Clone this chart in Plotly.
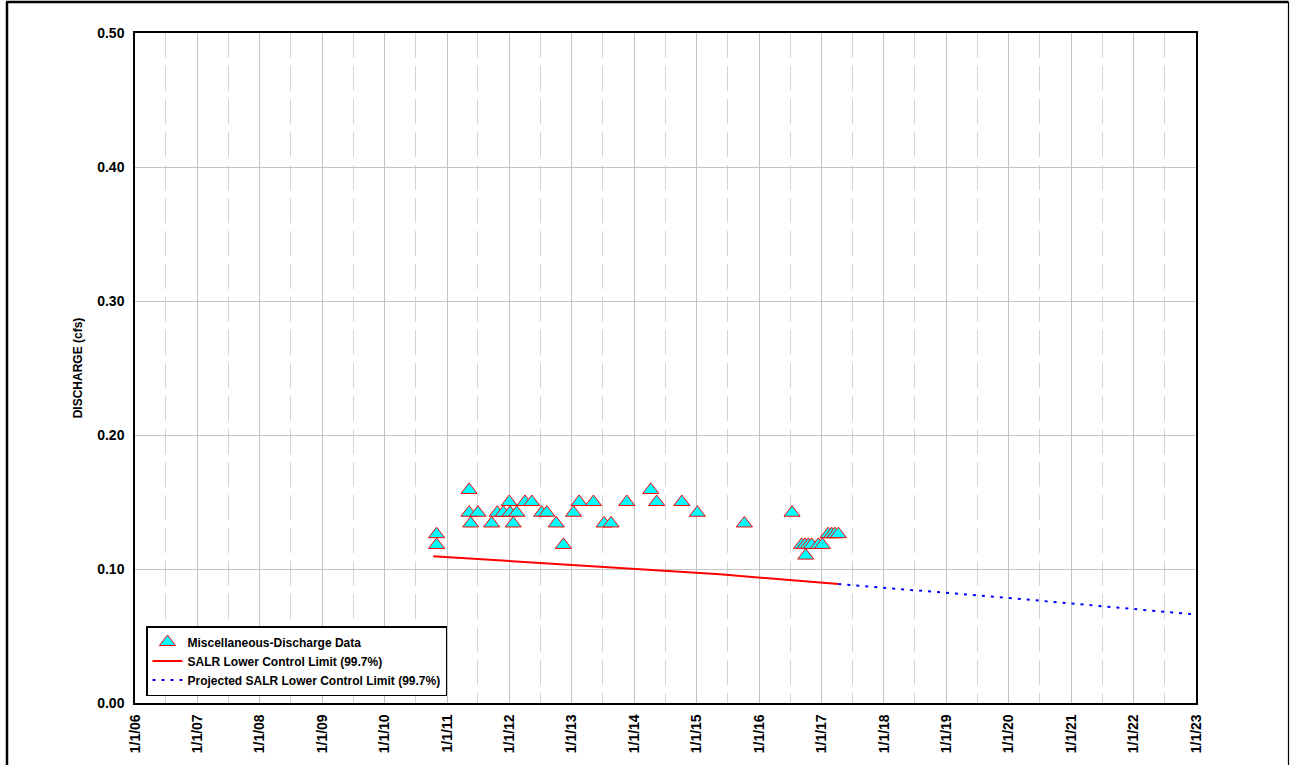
import plotly.graph_objects as go

# Miscellaneous discharge measurements
meas_dates = [
    "2010-11-01", "2010-11-01", "2011-05-10", "2011-05-10", "2011-05-20",
    "2011-07-01", "2011-09-19", "2011-10-22", "2011-11-26", "2011-12-31",
    "2012-01-05", "2012-01-23", "2012-02-13", "2012-04-01", "2012-05-11",
    "2012-07-08", "2012-08-07", "2012-10-01", "2012-11-12", "2013-01-10",
    "2013-02-12", "2013-05-07", "2013-07-08", "2013-08-18", "2013-11-18",
    "2014-04-07", "2014-05-12", "2014-10-06", "2015-01-05", "2015-10-07",
    "2016-07-12", "2016-09-06", "2016-09-26", "2016-09-30", "2016-10-16",
    "2016-11-04", "2016-12-13", "2017-01-06", "2017-02-08", "2017-03-01",
    "2017-03-20", "2017-04-09",
]
meas_cfs = [
    0.126, 0.118, 0.159, 0.142, 0.134,
    0.142, 0.134, 0.142, 0.142, 0.150,
    0.142, 0.134, 0.142, 0.150, 0.150,
    0.142, 0.142, 0.134, 0.118, 0.142,
    0.150, 0.150, 0.134, 0.134, 0.150,
    0.159, 0.150, 0.150, 0.142, 0.134,
    0.142, 0.118, 0.118, 0.110, 0.118,
    0.118, 0.118, 0.118, 0.126, 0.126,
    0.126, 0.126,
]

# SALR lower control limit over the record period
lcl_dates = ["2010-10-12", "2015-05-17", "2017-04-09"]
lcl_cfs = [0.1096, 0.0960, 0.0888]

# Projected lower control limit
proj_dates = ["2017-04-09", "2020-01-28", "2023-01-01"]
proj_cfs = [0.0888, 0.0781, 0.0660]

y_ticks = [0.0, 0.1, 0.2, 0.3, 0.4, 0.5]

FONT = "Liberation Sans, Arial, sans-serif"

fig = go.Figure()

fig.add_trace(go.Scatter(
    x=meas_dates, y=meas_cfs, mode="markers",
    name="Miscellaneous-Discharge Data",
    marker=dict(symbol="triangle-up", size=14, color="#00ffff",
                line=dict(color="#ff0000", width=1)),
))
fig.add_trace(go.Scatter(
    x=lcl_dates, y=lcl_cfs, mode="lines",
    name="SALR Lower Control Limit (99.7%)",
    line=dict(color="#ff0000", width=2),
))
fig.add_trace(go.Scatter(
    x=proj_dates, y=proj_cfs, mode="lines",
    name="Projected SALR Lower Control Limit (99.7%)",
    line=dict(color="#0000ff", width=2, dash="3px,6px"),
))

# Page border
W, H = 1293, 765
L, R, T, B = 135, 1196, 33, 703
def px(xp):
    return (xp - L) / (R - L)
def py(yp):
    return (B - yp) / (B - T)

border = [
    (px(7), py(2), px(7), py(790), 2.5),
    (px(6), py(2), px(1288.5), py(2), 2.5),
    (px(1288.5), py(2), px(1288.5), py(790), 1.2),
]
for x0, y0, x1, y1, w in border:
    fig.add_shape(type="line", xref="paper", yref="paper",
                  x0=x0, y0=y0, x1=x1, y1=y1,
                  line=dict(color="black", width=w))

fig.update_layout(
    width=W, height=H,
    margin=dict(l=L, r=W - R, t=T, b=H - B, autoexpand=False),
    paper_bgcolor="white", plot_bgcolor="white",
    font=dict(family=FONT, color="black"),
    showlegend=True,
    legend=dict(
        x=px(146), y=py(696), xanchor="left", yanchor="bottom",
        bgcolor="white", bordercolor="black", borderwidth=1.5,
        font=dict(family=FONT, size=12, color="black", weight="bold"),
        traceorder="normal", itemwidth=30, tracegroupgap=0,
    ),
)

fig.update_xaxes(
    type="date", range=["2006-01-01", "2023-01-01"],
    tick0="2006-01-01", dtick="M12", tickformat="%-m/%-d/%y",
    tickangle=-90, ticks="", ticklabelstandoff=4,
    tickfont=dict(family=FONT, size=14, color="black", weight="bold"),
    showgrid=True, gridcolor="#c4c4c4", gridwidth=1,
    minor=dict(tick0="2006-07-01", dtick="M12", showgrid=True,
               gridcolor="#d4d4d4", gridwidth=1, griddash="25px,8px"),
    showline=True, linecolor="black", linewidth=1.5, mirror=True,
    zeroline=False,
)
fig.update_yaxes(
    range=[0, 0.5], tickvals=y_ticks, tickformat=".2f",
    ticks="", ticklabelstandoff=6,
    tickfont=dict(family=FONT, size=14, color="black", weight="bold"),
    title=dict(text="DISCHARGE (cfs)", standoff=12,
               font=dict(family=FONT, size=12, color="black", weight="bold")),
    showgrid=True, gridcolor="#c4c4c4", gridwidth=1,
    showline=True, linecolor="black", linewidth=1.5, mirror=True,
    zeroline=False,
)

fig.write_html("out.html")
